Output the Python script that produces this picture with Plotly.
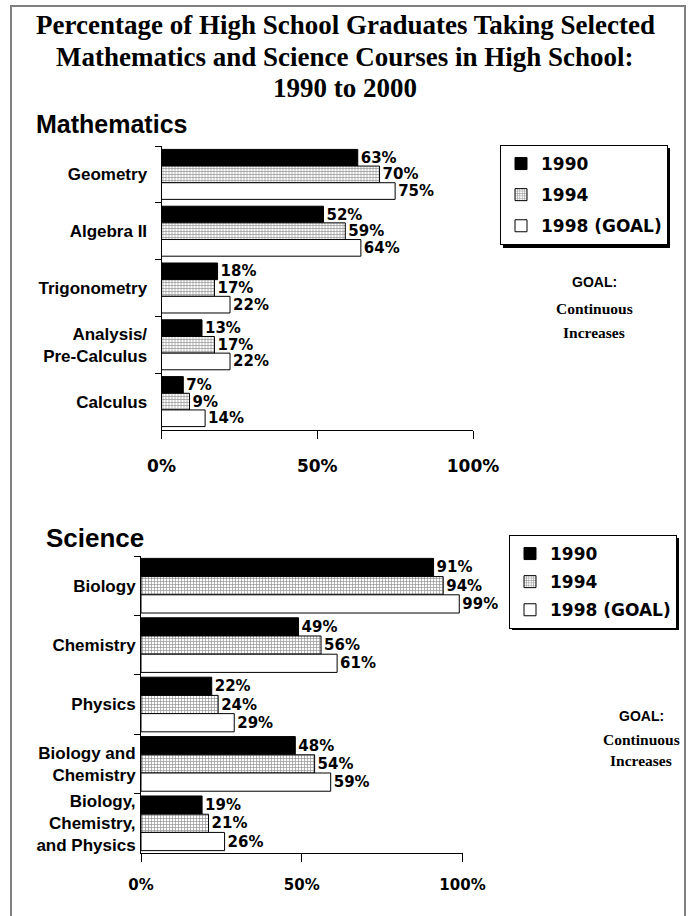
import plotly.graph_objects as go

# ---------------- data ----------------
years = ["1990", "1994", "1998 (GOAL)"]

math_courses = ["Geometry", "Algebra II", "Trigonometry", "Analysis/<br>Pre-Calculus", "Calculus"]
math_1990 = [63, 52, 18, 13, 7]
math_1994 = [70, 59, 17, 17, 9]
math_1998 = [75, 64, 22, 22, 14]

sci_courses = ["Biology", "Chemistry", "Physics", "Biology and<br>Chemistry",
               "Biology,<br>Chemistry,<br>and Physics"]
sci_1990 = [91, 49, 22, 48, 19]
sci_1994 = [94, 56, 24, 54, 21]
sci_1998 = [99, 61, 29, 59, 26]

x_tickvals = [0, 50, 100]
x_ticktext = ["0%", "50%", "100%"]

title_lines = ["Percentage of High School Graduates Taking Selected",
               "Mathematics and Science Courses in High School:",
               "1990 to 2000"]

# ---------------- helpers ----------------
W, H = 688, 916


def px(x):
    return x / W


def py(y):
    return 1 - y / H


SANS = "Arial, Liberation Sans, sans-serif"
WIDE = "DejaVu Sans, Verdana, sans-serif"
SERIF = "Times New Roman, Liberation Serif, serif"

styles = [
    dict(marker=dict(color="black", line=dict(color="black", width=1))),
    dict(marker=dict(color="white", line=dict(color="black", width=1),
                     pattern=dict(shape="+", fgcolor="#222222", bgcolor="white",
                                  size=3, solidity=0.4, fillmode="overlay"))),
    dict(marker=dict(color="white", line=dict(color="black", width=1))),
]

fig = go.Figure()


def add_group(cats, series, xa, ya, legend, prefix, groupfrac):
    n = len(series)
    w = groupfrac / n
    for i, (vals, yr) in enumerate(zip(series, years)):
        fig.add_trace(go.Bar(
            y=cats, x=vals, orientation="h", name=yr,
            xaxis=xa, yaxis=ya, legend=legend, legendgroup=prefix + yr,
            width=w, offset=-groupfrac / 2 + i * w,
            text=[f"{v}%" for v in vals], textposition="outside",
            textfont=dict(family=WIDE, size=15, color="black", weight="bold"),
            constraintext="none", cliponaxis=False,
            **styles[i]))


add_group(math_courses, [math_1990, math_1994, math_1998], "x", "y", "legend", "m", 0.88)
add_group(sci_courses, [sci_1990, sci_1994, sci_1998], "x2", "y2", "legend2", "s", 0.92)

xcommon = dict(range=[0, 100], tickmode="array", tickvals=x_tickvals, ticktext=x_ticktext,
               showline=True, linecolor="black", linewidth=1, ticks="outside",
               ticklen=8, tickcolor="black", showgrid=False, zeroline=False,
               fixedrange=True, automargin=False)
ycommon = dict(type="category", autorange="reversed", showline=True, linecolor="black",
               linewidth=1, ticks="outside", tickson="boundaries", ticklen=6,
               tickcolor="black", showgrid=False, zeroline=False, automargin=False,
               tickfont=dict(family=SANS, size=17, color="black", weight="bold"))

fig.update_layout(
    template="none",
    width=W, height=H, margin=dict(l=0, r=0, t=0, b=0, pad=0, autoexpand=False),
    paper_bgcolor="white", plot_bgcolor="white",
    barmode="group", showlegend=True,
    xaxis=dict(domain=[px(161.5), px(473)], anchor="y", ticklabelstandoff=13,
               tickfont=dict(family=WIDE, size=17, color="black", weight="bold"), **xcommon),
    yaxis=dict(domain=[py(430), py(146)], anchor="x", ticklabelstandoff=10,
               categoryorder="array", categoryarray=math_courses, **ycommon),
    xaxis2=dict(domain=[px(141), px(462.5)], anchor="y2", ticklabelstandoff=10,
                tickfont=dict(family=WIDE, size=15, color="black", weight="bold"), **xcommon),
    yaxis2=dict(domain=[py(853), py(556)], anchor="x2", ticklabelstandoff=1,
                categoryorder="array", categoryarray=sci_courses, **ycommon),
    legend=dict(x=px(500), y=py(145), xanchor="left", yanchor="top", bgcolor="white",
                bordercolor="black", borderwidth=1, traceorder="grouped", tracegroupgap=6,
                font=dict(family=WIDE, size=17, color="black", weight="bold")),
    legend2=dict(x=px(509), y=py(535), xanchor="left", yanchor="top", bgcolor="white",
                 bordercolor="black", borderwidth=1, traceorder="grouped", tracegroupgap=3,
                 font=dict(family=WIDE, size=17, color="black", weight="bold")),
)

# outer frame
fig.add_shape(type="rect", xref="paper", yref="paper", x0=px(11), x1=px(685),
              y0=py(930), y1=py(6), line=dict(color="#808080", width=2), layer="below")
# legend shadows
for (lx, ly, lw, lh) in [(500, 145, 167, 100), (509, 535, 167, 92)]:
    fig.add_shape(type="rect", xref="paper", yref="paper",
                  x0=px(lx + 3), x1=px(lx + lw + 3), y0=py(ly + lh + 3), y1=py(ly + 3),
                  line=dict(width=0), fillcolor="black", layer="below")

ann = []
for line, yc in zip(title_lines, [25, 57, 88]):
    ann.append(dict(text=line, x=px(345), y=py(yc), xanchor="center", yanchor="middle",
                    font=dict(family=SERIF, size=27, color="black", weight="bold")))
ann.append(dict(text="Mathematics", x=px(34), y=py(124), xanchor="left", yanchor="middle",
                font=dict(family=SANS, size=25, color="black", weight="bold")))
ann.append(dict(text="Science", x=px(44), y=py(538), xanchor="left", yanchor="middle",
                font=dict(family=SANS, size=26, color="black", weight="bold")))
for (cx, gy, cy, iy) in [(594, 282, 308, 332), (641, 716, 739, 760)]:
    ann.append(dict(text="GOAL:", x=px(cx), y=py(gy), xanchor="center", yanchor="middle",
                    font=dict(family=SANS, size=14, color="black", weight="bold")))
    ann.append(dict(text="Continuous", x=px(cx), y=py(cy), xanchor="center", yanchor="middle",
                    font=dict(family=SERIF, size=15.5, color="black", weight="bold")))
    ann.append(dict(text="Increases", x=px(cx), y=py(iy), xanchor="center", yanchor="middle",
                    font=dict(family=SERIF, size=15.5, color="black", weight="bold")))
for a in ann:
    a.update(xref="paper", yref="paper", showarrow=False)
fig.update_layout(annotations=ann)

fig.write_html("out.html", config={"displayModeBar": False},
               post_script="document.body.style.margin='0';")
